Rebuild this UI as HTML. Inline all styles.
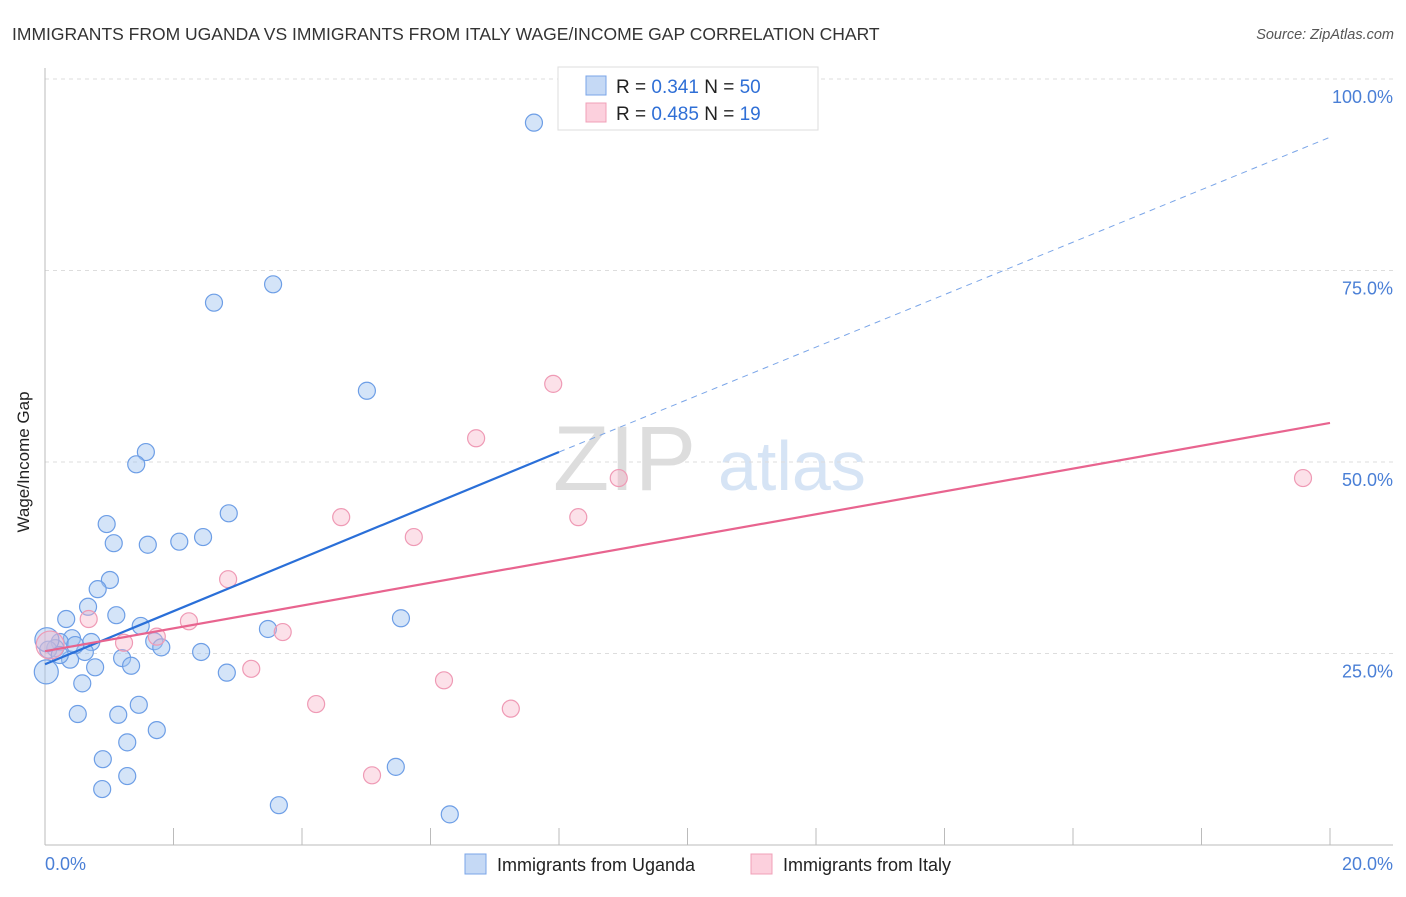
<!DOCTYPE html>
<html><head><meta charset="utf-8"><style>
body{margin:0;background:#fff;font-family:"Liberation Sans",sans-serif}
svg text{font-family:"Liberation Sans",sans-serif}
</style></head><body>
<svg width="1406" height="892" viewBox="0 0 1406 892">
<text x="12" y="40" font-size="17.5" fill="#333">IMMIGRANTS FROM UGANDA VS IMMIGRANTS FROM ITALY WAGE/INCOME GAP CORRELATION CHART</text>
<text x="1394" y="39" font-size="14.5" fill="#555" text-anchor="end" font-style="italic">Source: ZipAtlas.com</text>
<g><text x="553" y="490" font-size="92" font-family="Liberation Serif,serif" fill="#ddd">ZIP</text><text x="718" y="490" font-size="70" fill="#d6e4f5">atlas</text></g>
<g id="grid"></g><g id="axes"></g><g id="pts"></g><g id="lines"></g>
<text x="23" y="456" font-size="17" fill="#222" text-anchor="middle" transform="rotate(-90 29 456)">Wage/Income Gap</text>
<text x="45" y="870" font-size="18" fill="#4a7fd6">0.0%</text>
<text x="1393" y="870" font-size="18" fill="#4a7fd6" text-anchor="end">20.0%</text>
<g>
<rect x="558" y="67" width="260" height="63" fill="#fff" stroke="#ddd"/>
<rect x="586" y="76" width="20" height="19" fill="#c5d9f5" stroke="#7aa5e8"/>
<rect x="586" y="103" width="20" height="19" fill="#fcd0dd" stroke="#f0a0b8"/>
<text x="616" y="93" font-size="19" fill="#222">R = <tspan fill="#2f6fd6">0.341</tspan>   N = <tspan fill="#2f6fd6">50</tspan></text>
<text x="616" y="120" font-size="19" fill="#222">R = <tspan fill="#2f6fd6">0.485</tspan>   N =  <tspan fill="#2f6fd6">19</tspan></text>
</g>
<g>
<rect x="465" y="854" width="21" height="20" fill="#c5d9f5" stroke="#7aa5e8"/>
<text x="497" y="871" font-size="18" fill="#222">Immigrants from Uganda</text>
<rect x="751" y="854" width="21" height="20" fill="#fcd0dd" stroke="#f0a0b8"/>
<text x="783" y="871" font-size="18" fill="#222">Immigrants from Italy</text>
</g>
</svg>
<script>
const yTicks=[25,50,75,100];
const yTickLabels=["25.0%","50.0%","75.0%","100.0%"];
const xTicks=[2,4,6,8,10,12,14,16,18,20];
const ugandaX=[7.61,3.55,2.63,5.01,1.57,1.42,2.86,0.96,1.07,1.60,2.09,2.46,1.01,0.82,0.67,1.11,0.33,1.49,3.47,5.54,1.70,1.81,0.72,0.42,0.23,0.16,0.05,0.62,0.39,1.20,0.78,1.34,0.02,2.43,2.83,0.58,1.46,0.51,1.14,1.74,1.28,0.90,1.28,0.89,5.46,3.64,6.30,0.03,0.23,0.47];
const ugandaY=[94.3,73.2,70.8,59.3,51.3,49.7,43.3,41.9,39.4,39.2,39.6,40.2,34.6,33.4,31.1,30.0,29.5,28.6,28.2,29.6,26.6,25.8,26.5,27.0,26.5,25.7,25.5,25.2,24.2,24.4,23.2,23.4,22.6,25.2,22.5,21.1,18.3,17.1,17.0,15.0,13.4,11.2,9.0,7.3,10.2,5.2,4.0,26.8,24.8,26.1];
const italyX=[7.91,6.71,8.93,19.58,4.61,8.30,5.74,2.85,2.24,0.68,3.70,1.74,1.23,3.21,6.21,4.22,7.25,5.09,0.08];
const italyY=[60.2,53.1,47.9,47.9,42.8,42.8,40.2,34.7,29.2,29.5,27.8,27.2,26.4,23.0,21.5,18.4,17.8,9.1,26.1];
const ugandaTrend=[[0,23.6],[8.0,51.3],[20,92.4]];
const italyTrend=[[0,25.3],[20,55.1]];
const X=v=>45+v/20*1285, Y=v=>845-v/100*766;
const NS="http://www.w3.org/2000/svg";
function mk(t,a,p){const e=document.createElementNS(NS,t);for(const k in a)e.setAttribute(k,a[k]);document.getElementById(p).appendChild(e);return e;}
yTicks.forEach((t,i)=>{
 const l=mk('line',{x1:45,x2:1393,y1:Y(t),y2:Y(t),stroke:'#ddd','stroke-dasharray':'4,4'},'grid');
 
 
 const tx=mk('text',{x:1393,y:Y(t)+24,'font-size':18,fill:'#4a7fd6','text-anchor':'end'},'grid');
 tx.textContent=yTickLabels[i];
 
 
});
const ax=mk('line',{x1:45,x2:45,y1:68,y2:845,stroke:'#bbb'},'axes');


const bx=mk('line',{x1:45,x2:1393,y1:845,y2:845,stroke:'#bbb'},'axes');


xTicks.forEach(t=>{
 const l=mk('line',{x1:X(t),x2:X(t),y1:828,y2:845,stroke:'#bbb'},'axes');
 
 
});
ugandaX.forEach((x,i)=>{
 const c=mk('circle',{cx:X(x),cy:Y(ugandaY[i]),r:(x<0.05?12:8.5),fill:'rgba(160,195,240,0.45)',stroke:'#6d9ee6','stroke-width':1.2},'pts');
 
 
});
italyX.forEach((x,i)=>{
 const c=mk('circle',{cx:X(x),cy:Y(italyY[i]),r:(x<0.1?14:8.5),fill:'rgba(248,180,200,0.4)',stroke:'#ef9ab5','stroke-width':1.2},'pts');
 
 
});
const b1=mk('line',{x1:X(ugandaTrend[0][0]),y1:Y(ugandaTrend[0][1]),x2:X(ugandaTrend[1][0]),y2:Y(ugandaTrend[1][1]),stroke:'#2a6fd8','stroke-width':2.2},'lines');


const b2=mk('line',{x1:X(ugandaTrend[1][0]),y1:Y(ugandaTrend[1][1]),x2:X(ugandaTrend[2][0]),y2:Y(ugandaTrend[2][1]),stroke:'#7aa5e8','stroke-width':1,'stroke-dasharray':'6,5'},'lines');


const p1=mk('line',{x1:X(italyTrend[0][0]),y1:Y(italyTrend[0][1]),x2:X(italyTrend[1][0]),y2:Y(italyTrend[1][1]),stroke:'#e8648f','stroke-width':2.2},'lines');


</script>
</body></html>
